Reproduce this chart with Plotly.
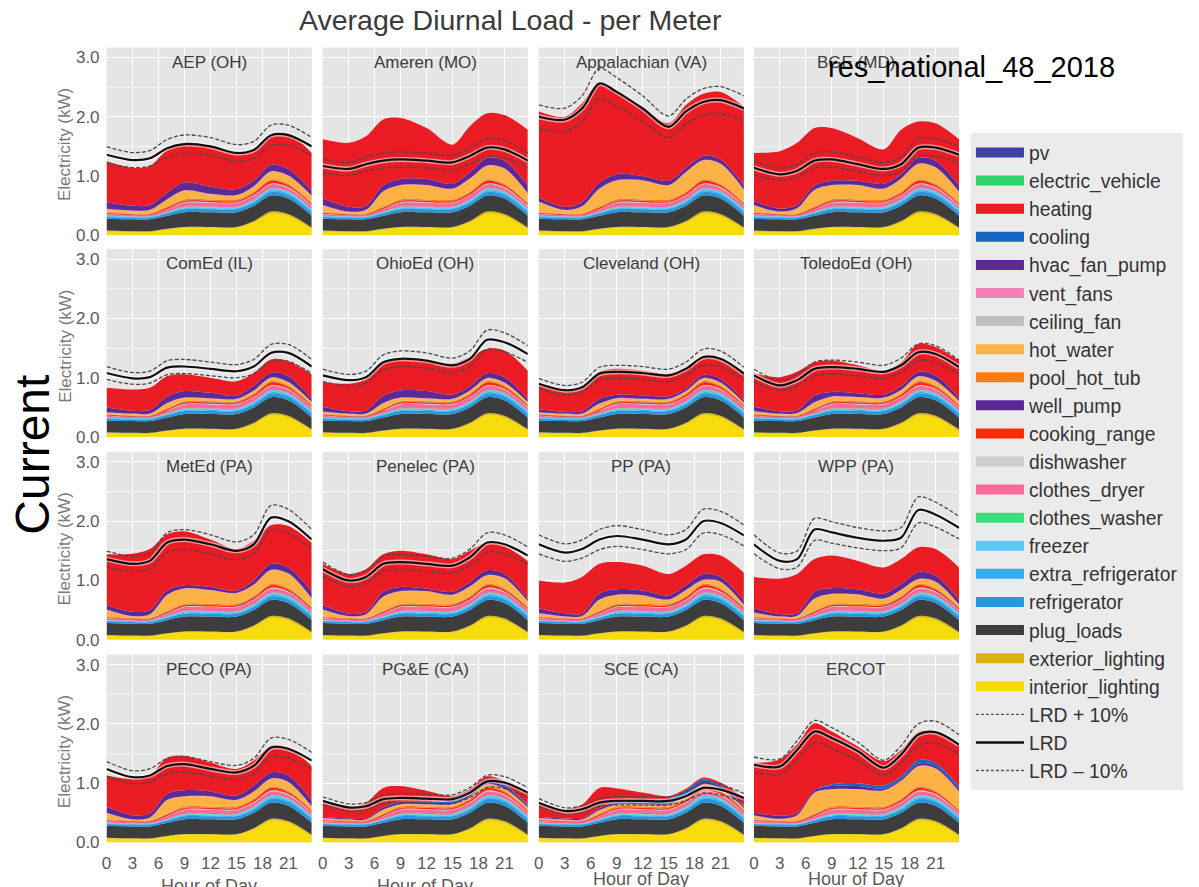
import plotly.graph_objects as go

W, H = 1199, 887
FONT = "Liberation Sans, Arial, sans-serif"

utilities = ["AEP (OH)", "Ameren (MO)", "Appalachian (VA)", "BGE (MD)",
             "ComEd (IL)", "OhioEd (OH)", "Cleveland (OH)", "ToledoEd (OH)",
             "MetEd (PA)", "Penelec (PA)", "PP (PA)", "WPP (PA)",
             "PECO (PA)", "PG&E (CA)", "SCE (CA)", "ERCOT"]

hours = [0, 3, 5, 7, 9, 12, 15, 17, 19, 21, 23.7]
hour_ticks = [0, 3, 6, 9, 12, 15, 18, 21]
kw_ticks = [0, 1, 2, 3]
kw_labels = ["0.0", "1.0", "2.0", "3.0"]

# shared end uses (kW per meter)
interior_lighting = [0.07, 0.06, 0.06, 0.10, 0.13, 0.13, 0.13, 0.22, 0.37, 0.33, 0.11]
exterior_lighting = [0.01, 0.01, 0.01, 0.01, 0.01, 0.01, 0.01, 0.02, 0.03, 0.03, 0.02]
plug_loads = [0.20, 0.20, 0.20, 0.22, 0.25, 0.25, 0.25, 0.26, 0.27, 0.26, 0.20]
refrigerator = [0.03, 0.03, 0.03, 0.04, 0.05, 0.05, 0.05, 0.05, 0.06, 0.06, 0.06]
extra_refrigerator = [0.01, 0.01, 0.01, 0.01, 0.015, 0.015, 0.015, 0.02, 0.025, 0.025, 0.025]
freezer = [0.01, 0.01, 0.01, 0.01, 0.015, 0.015, 0.015, 0.02, 0.025, 0.025, 0.025]
clothes_washer = [0.0, 0.0, 0.0, 0.005, 0.01, 0.01, 0.01, 0.01, 0.01, 0.01, 0.005]
clothes_dryer = [0.03, 0.02, 0.02, 0.045, 0.07, 0.07, 0.07, 0.07, 0.07, 0.06, 0.055]
dishwasher = [0.005, 0.0, 0.0, 0.005, 0.01, 0.01, 0.01, 0.01, 0.015, 0.015, 0.01]
cooking_range = [0.01, 0.01, 0.01, 0.02, 0.02, 0.02, 0.02, 0.03, 0.045, 0.03, 0.02]
well_pump = [0.005, 0.005, 0.005, 0.005, 0.005, 0.005, 0.005, 0.005, 0.005, 0.005, 0.005]
pool_hot_tub = [0.01, 0.01, 0.01, 0.015, 0.02, 0.02, 0.02, 0.02, 0.02, 0.02, 0.015]
ceiling_fan = [0.0, 0.0, 0.0, 0.0, 0.0, 0.0, 0.0, 0.0, 0.0, 0.0, 0.0]
vent_fans = [0.01, 0.01, 0.01, 0.01, 0.01, 0.01, 0.01, 0.01, 0.01, 0.01, 0.01]
electric_vehicle = [0.0, 0.0, 0.0, 0.0, 0.0, 0.0, 0.0, 0.0, 0.0, 0.0, 0.0]
pv = [0.0, 0.0, 0.0, 0.0, 0.0, 0.0, 0.0, 0.0, 0.0, 0.0, 0.0]

# per-utility end uses (rows follow `utilities`)
hot_water = [
    [0.05, 0.045, 0.055, 0.115, 0.145, 0.085, 0.065, 0.085, 0.125, 0.13, 0.11],
    [0.11, 0.025, 0.055, 0.25, 0.235, 0.235, 0.175, 0.215, 0.225, 0.25, 0.15],
    [0.17, 0.055, 0.115, 0.295, 0.315, 0.315, 0.235, 0.325, 0.315, 0.33, 0.21],
    [0.11, 0.025, 0.085, 0.275, 0.235, 0.235, 0.175, 0.215, 0.255, 0.27, 0.18],
    [0.02, 0.02, 0.02, 0.08, 0.05, 0.04, 0.03, 0.04, 0.05, 0.05, 0.03],
    [0.03, 0.02, 0.02, 0.08, 0.05, 0.04, 0.03, 0.04, 0.04, 0.04, 0.03],
    [0.02, 0.02, 0.02, 0.07, 0.04, 0.03, 0.03, 0.03, 0.04, 0.04, 0.02],
    [0.04, 0.02, 0.03, 0.09, 0.07, 0.06, 0.05, 0.05, 0.07, 0.07, 0.05],
    [0.11, 0.025, 0.055, 0.265, 0.255, 0.225, 0.175, 0.185, 0.225, 0.24, 0.14],
    [0.11, 0.025, 0.055, 0.235, 0.205, 0.205, 0.145, 0.155, 0.135, 0.16, 0.09],
    [0.05, 0.02, 0.025, 0.185, 0.145, 0.135, 0.065, 0.095, 0.055, 0.10, 0.03],
    [0.06, 0.02, 0.03, 0.20, 0.16, 0.15, 0.08, 0.10, 0.07, 0.10, 0.04],
    [0.10, 0.015, 0.045, 0.225, 0.165, 0.165, 0.105, 0.115, 0.125, 0.14, 0.05],
    [0.01, 0.01, 0.01, 0.06, 0.03, 0.03, 0.03, 0.03, 0.03, 0.03, 0.03],
    [0.01, 0.01, 0.01, 0.05, 0.03, 0.03, 0.03, 0.03, 0.03, 0.03, 0.02],
    [0.06, 0.025, 0.085, 0.345, 0.285, 0.285, 0.265, 0.295, 0.335, 0.37, 0.30],
]
hvac_fan_pump = [
    [0.11, 0.08, 0.08, 0.11, 0.13, 0.12, 0.10, 0.09, 0.11, 0.11, 0.08],
    [0.11, 0.08, 0.07, 0.10, 0.10, 0.10, 0.08, 0.10, 0.13, 0.13, 0.13],
    [0.07, 0.05, 0.07, 0.10, 0.10, 0.07, 0.07, 0.07, 0.07, 0.07, 0.07],
    [0.07, 0.05, 0.05, 0.07, 0.07, 0.07, 0.08, 0.07, 0.10, 0.11, 0.10],
    [0.08, 0.05, 0.06, 0.11, 0.11, 0.09, 0.05, 0.08, 0.08, 0.10, 0.05],
    [0.08, 0.04, 0.055, 0.12, 0.12, 0.12, 0.07, 0.07, 0.08, 0.09, 0.05],
    [0.05, 0.03, 0.04, 0.08, 0.06, 0.06, 0.04, 0.04, 0.05, 0.06, 0.04],
    [0.07, 0.04, 0.045, 0.115, 0.075, 0.065, 0.05, 0.06, 0.075, 0.09, 0.05],
    [0.07, 0.07, 0.07, 0.07, 0.05, 0.05, 0.04, 0.07, 0.10, 0.10, 0.11],
    [0.07, 0.04, 0.04, 0.08, 0.07, 0.04, 0.05, 0.07, 0.08, 0.07, 0.04],
    [0.08, 0.05, 0.04, 0.10, 0.09, 0.08, 0.07, 0.08, 0.10, 0.08, 0.07],
    [0.07, 0.04, 0.04, 0.115, 0.095, 0.085, 0.085, 0.095, 0.115, 0.10, 0.07],
    [0.10, 0.07, 0.07, 0.10, 0.10, 0.08, 0.07, 0.10, 0.10, 0.11, 0.10],
    [0.02, 0.02, 0.02, 0.04, 0.03, 0.03, 0.03, 0.03, 0.04, 0.04, 0.03],
    [0.02, 0.02, 0.02, 0.03, 0.03, 0.03, 0.03, 0.03, 0.03, 0.03, 0.02],
    [0.04, 0.05, 0.04, 0.04, 0.05, 0.05, 0.03, 0.03, 0.04, 0.04, 0.04],
]
cooling = [
    [0, 0, 0, 0, 0, 0, 0, 0, 0, 0, 0],
    [0, 0, 0, 0, 0, 0, 0, 0, 0, 0, 0],
    [0, 0, 0, 0, 0, 0, 0, 0, 0, 0, 0],
    [0, 0, 0, 0, 0, 0, 0, 0, 0, 0, 0],
    [0, 0, 0, 0, 0, 0, 0, 0, 0, 0, 0],
    [0, 0, 0, 0, 0, 0, 0, 0, 0, 0, 0],
    [0, 0, 0, 0, 0, 0, 0, 0, 0, 0, 0],
    [0, 0, 0, 0, 0, 0, 0, 0, 0, 0, 0],
    [0, 0, 0, 0, 0, 0, 0, 0, 0, 0, 0],
    [0, 0, 0, 0, 0, 0, 0, 0, 0, 0, 0],
    [0, 0, 0, 0, 0, 0, 0, 0, 0, 0, 0],
    [0, 0, 0, 0, 0, 0, 0, 0, 0, 0, 0],
    [0, 0, 0, 0, 0, 0, 0, 0, 0, 0, 0],
    [0, 0, 0, 0, 0.01, 0.02, 0.03, 0.03, 0.04, 0.03, 0.01],
    [0, 0, 0, 0, 0.01, 0.04, 0.06, 0.07, 0.05, 0.03, 0.01],
    [0, 0, 0, 0, 0.03, 0.05, 0.05, 0.04, 0.06, 0.05, 0.04],
]
heating = [
    [0.69, 0.64, 0.66, 0.72, 0.67, 0.69, 0.61, 0.52, 0.50, 0.60, 0.64],
    [1.00, 1.08, 1.17, 1.11, 1.03, 0.86, 0.66, 0.78, 0.75, 0.77, 0.94],
    [1.45, 1.52, 1.67, 1.70, 1.42, 1.17, 0.97, 1.06, 1.05, 1.14, 1.33],
    [0.81, 0.97, 1.05, 0.97, 0.89, 0.72, 0.58, 0.75, 0.61, 0.63, 0.78],
    [0.33, 0.355, 0.375, 0.345, 0.285, 0.255, 0.245, 0.215, 0.225, 0.25, 0.42],
    [0.42, 0.465, 0.53, 0.545, 0.535, 0.515, 0.525, 0.495, 0.415, 0.45, 0.48],
    [0.43, 0.365, 0.405, 0.455, 0.435, 0.415, 0.385, 0.365, 0.305, 0.34, 0.48],
    [0.56, 0.575, 0.65, 0.56, 0.53, 0.47, 0.405, 0.405, 0.47, 0.48, 0.63],
    [0.86, 0.98, 1.03, 0.95, 0.91, 0.80, 0.70, 0.67, 0.65, 0.70, 0.83],
    [0.70, 0.67, 0.72, 0.63, 0.61, 0.58, 0.55, 0.53, 0.47, 0.47, 0.64],
    [0.47, 0.52, 0.62, 0.50, 0.46, 0.42, 0.36, 0.33, 0.33, 0.36, 0.47],
    [0.53, 0.595, 0.665, 0.55, 0.55, 0.48, 0.44, 0.42, 0.42, 0.45, 0.55],
    [0.53, 0.61, 0.64, 0.61, 0.58, 0.49, 0.45, 0.42, 0.45, 0.47, 0.58],
    [0.24, 0.185, 0.265, 0.325, 0.265, 0.175, 0.075, 0.06, 0.05, 0.06, 0.21],
    [0.24, 0.155, 0.235, 0.345, 0.225, 0.125, 0.045, 0.03, 0.03, 0.04, 0.14],
    [0.84, 0.95, 1.15, 1.13, 0.89, 0.62, 0.41, 0.45, 0.47, 0.53, 0.71],
]
lrd = [
    [1.36, 1.27, 1.30, 1.47, 1.54, 1.50, 1.39, 1.44, 1.69, 1.69, 1.50],
    [1.17, 1.12, 1.20, 1.26, 1.28, 1.26, 1.23, 1.34, 1.48, 1.45, 1.26],
    [2.00, 1.95, 2.14, 2.56, 2.42, 2.14, 1.83, 2.09, 2.25, 2.28, 2.14],
    [1.14, 1.03, 1.09, 1.26, 1.28, 1.20, 1.12, 1.20, 1.48, 1.48, 1.36],
    [1.08, 0.99, 1.01, 1.17, 1.19, 1.15, 1.11, 1.19, 1.42, 1.42, 1.19],
    [1.04, 0.96, 1.01, 1.26, 1.32, 1.29, 1.21, 1.32, 1.64, 1.60, 1.40],
    [0.90, 0.79, 0.84, 1.07, 1.10, 1.08, 1.04, 1.15, 1.35, 1.32, 1.07],
    [1.04, 0.87, 0.96, 1.15, 1.18, 1.15, 1.10, 1.21, 1.43, 1.40, 1.18],
    [1.36, 1.28, 1.33, 1.64, 1.69, 1.61, 1.50, 1.61, 2.06, 2.00, 1.69],
    [1.19, 1.00, 1.06, 1.28, 1.31, 1.28, 1.25, 1.39, 1.64, 1.61, 1.42],
    [1.61, 1.47, 1.53, 1.69, 1.75, 1.69, 1.61, 1.69, 2.00, 1.97, 1.76],
    [1.61, 1.33, 1.36, 1.86, 1.81, 1.72, 1.67, 1.72, 2.19, 2.11, 1.89],
    [1.24, 1.10, 1.13, 1.29, 1.32, 1.24, 1.18, 1.29, 1.60, 1.58, 1.38],
    [0.70, 0.59, 0.61, 0.73, 0.75, 0.74, 0.73, 0.84, 1.03, 1.01, 0.84],
    [0.67, 0.53, 0.56, 0.67, 0.70, 0.70, 0.70, 0.78, 0.92, 0.89, 0.75],
    [1.31, 1.28, 1.56, 1.87, 1.76, 1.54, 1.26, 1.48, 1.82, 1.86, 1.65],
]

colors = {
    "pv": "#3f3fa6", "electric_vehicle": "#2fd36b", "heating": "#ea1c24",
    "cooling": "#1466c4", "hvac_fan_pump": "#5a2a97", "vent_fans": "#f57fb7",
    "ceiling_fan": "#bfbfbf", "hot_water": "#fdb246", "pool_hot_tub": "#ff7b12",
    "well_pump": "#58289a", "cooking_range": "#ff2a0a", "dishwasher": "#cdcdcd",
    "clothes_dryer": "#f76a9c", "clothes_washer": "#3ddd7e", "freezer": "#5cc6f7",
    "extra_refrigerator": "#36aced", "refrigerator": "#2397e0", "plug_loads": "#3d3d3d",
    "exterior_lighting": "#d9b40a", "interior_lighting": "#f7dc0c",
}
legend_order = ["pv", "electric_vehicle", "heating", "cooling", "hvac_fan_pump",
                "vent_fans", "ceiling_fan", "hot_water", "pool_hot_tub", "well_pump",
                "cooking_range", "dishwasher", "clothes_dryer", "clothes_washer",
                "freezer", "extra_refrigerator", "refrigerator", "plug_loads",
                "exterior_lighting", "interior_lighting"]

col_left = [102, 319, 536, 752]
row_top = [48, 252, 457, 662]
PW, PH = 206, 190

fig = go.Figure()
annotations = []
layout_axes = {}

for i, util in enumerate(utilities):
    r, c = divmod(i, 4)
    sfx = "" if i == 0 else str(i + 1)
    xa, ya = "x" + sfx, "y" + sfx
    layers = [
        ("interior_lighting", interior_lighting), ("exterior_lighting", exterior_lighting),
        ("plug_loads", plug_loads), ("refrigerator", refrigerator),
        ("extra_refrigerator", extra_refrigerator), ("freezer", freezer),
        ("clothes_washer", clothes_washer), ("clothes_dryer", clothes_dryer),
        ("dishwasher", dishwasher), ("cooking_range", cooking_range),
        ("well_pump", well_pump), ("pool_hot_tub", pool_hot_tub),
        ("hot_water", hot_water[i]), ("ceiling_fan", ceiling_fan),
        ("vent_fans", vent_fans), ("hvac_fan_pump", hvac_fan_pump[i]),
        ("cooling", cooling[i]), ("heating", heating[i]),
        ("electric_vehicle", electric_vehicle), ("pv", pv),
    ]
    for name, vals in layers:
        fig.add_trace(go.Scatter(
            x=hours, y=vals, mode="lines", stackgroup=f"s{i}",
            line=dict(width=0, shape="spline", smoothing=0.9, color=colors[name]),
            fillcolor=colors[name], xaxis=xa, yaxis=ya,
            showlegend=False, hoverinfo="skip", name=name))
    lrd_hi = [v * 1.1 for v in lrd[i]]
    lrd_lo = [v * 0.9 for v in lrd[i]]
    for vals in (lrd_hi, lrd_lo):
        fig.add_trace(go.Scatter(
            x=hours, y=vals, mode="lines", xaxis=xa, yaxis=ya, showlegend=False,
            hoverinfo="skip",
            line=dict(color="#4a4a4a", width=1.3, dash="4px,2px", shape="spline", smoothing=0.9)))
    fig.add_trace(go.Scatter(
        x=hours, y=lrd[i], mode="lines", xaxis=xa, yaxis=ya, showlegend=False,
        hoverinfo="skip", opacity=0.55,
        line=dict(color="white", width=5, shape="spline", smoothing=0.9)))
    fig.add_trace(go.Scatter(
        x=hours, y=lrd[i], mode="lines", xaxis=xa, yaxis=ya, showlegend=False,
        hoverinfo="skip",
        line=dict(color="#111111", width=2.2, shape="spline", smoothing=0.9)))

    x0 = col_left[c] / W
    x1 = (col_left[c] + PW) / W
    y1 = (H - row_top[r]) / H
    y0 = (H - row_top[r] - PH) / H
    layout_axes["xaxis" + sfx] = dict(
        domain=[x0, x1], range=[0, 23.7], anchor=ya, tickvals=hour_ticks,
        showticklabels=(r == 3), tickfont=dict(size=17, color="#5a5a5a", family=FONT),
        ticklabelstandoff=9,
        showgrid=True, gridcolor="white", gridwidth=1, zeroline=False,
        showline=False, ticks="", fixedrange=True)
    layout_axes["yaxis" + sfx] = dict(
        domain=[y0, y1], range=[0, 3.17], anchor=xa, tickvals=kw_ticks,
        ticktext=kw_labels, showticklabels=(c == 0),
        tickfont=dict(size=17, color="#5a5a5a", family=FONT),
        ticklabelstandoff=6,
        showgrid=True, gridcolor="white", gridwidth=1, zeroline=False,
        showline=False, ticks="", fixedrange=True,
        minor=dict(tickvals=[0.5, 1.5, 2.5], showgrid=True,
                   gridcolor="rgba(255,255,255,0.6)", gridwidth=1))
    annotations.append(dict(
        text=util, x=(col_left[c] + PW / 2) / W, y=(H - row_top[r] - 15) / H,
        xref="paper", yref="paper", showarrow=False, xanchor="center", yanchor="middle",
        font=dict(size=17, color="#3c3c3c", family=FONT)))
    if c == 0:
        annotations.append(dict(
            text="Electricity (kW)", x=60 / W, y=(H - row_top[r] - 98) / H,
            xref="paper", yref="paper", showarrow=False, textangle=-90,
            xanchor="center", yanchor="middle",
            font=dict(size=17, color="#7a7a7a", family=FONT)))
    if r == 3:
        ypix = 896 if c < 2 else 889
        annotations.append(dict(
            text="Hour of Day", x=(col_left[c] + PW / 2) / W, y=(H - ypix) / H,
            xref="paper", yref="paper", showarrow=False, xanchor="center", yanchor="middle",
            font=dict(size=18, color="#5a5a5a", family=FONT)))

# legend entries
for k, name in enumerate(legend_order):
    fig.add_trace(go.Scatter(
        x=[None], y=[None], mode="lines", name=name, legendrank=k + 1,
        line=dict(color=colors[name], width=14), xaxis="x", yaxis="y",
        hoverinfo="skip"))
fig.add_trace(go.Scatter(x=[None], y=[None], mode="lines", name="LRD + 10%",
                         legendrank=30, line=dict(color="#555555", width=1.3, dash="3px,2px"),
                         xaxis="x", yaxis="y"))
fig.add_trace(go.Scatter(x=[None], y=[None], mode="lines", name="LRD",
                         legendrank=31, line=dict(color="#111111", width=2.5),
                         xaxis="x", yaxis="y"))
fig.add_trace(go.Scatter(x=[None], y=[None], mode="lines", name="LRD – 10%",
                         legendrank=32, line=dict(color="#555555", width=1.3, dash="3px,2px"),
                         xaxis="x", yaxis="y"))

annotations.append(dict(
    text="Average Diurnal Load - per Meter", x=508 / W, y=(H - 20) / H,
    xref="paper", yref="paper", showarrow=False, xanchor="center", yanchor="middle",
    font=dict(size=28.5, color="#3a3a3a", family=FONT)))
annotations.append(dict(
    text="res_national_48_2018", x=824 / W, y=(H - 68) / H,
    xref="paper", yref="paper", showarrow=False, xanchor="left", yanchor="middle",
    font=dict(size=29, color="#000000", family=FONT)))
annotations.append(dict(
    text="Current", x=28 / W, y=(H - 460) / H,
    xref="paper", yref="paper", showarrow=False, textangle=-90,
    xanchor="center", yanchor="middle",
    font=dict(size=48, color="#000000", family=FONT)))

fig.update_layout(
    width=W, height=H, margin=dict(l=0, r=0, t=0, b=0),
    paper_bgcolor="white", plot_bgcolor="#e5e5e5",
    font=dict(family=FONT, color="#333333"),
    annotations=annotations,
    showlegend=True,
    legend=dict(x=970 / W, y=(H - 135) / H, xanchor="left", yanchor="top",
                bgcolor="#ebebeb", borderwidth=0, traceorder="normal",
                font=dict(size=19.3, color="#333333", family=FONT),
                itemwidth=48, tracegroupgap=0),
    **layout_axes,
)

fig.write_html("out.html", config={"displayModeBar": False},
               post_script="document.body.style.margin='0px';")
